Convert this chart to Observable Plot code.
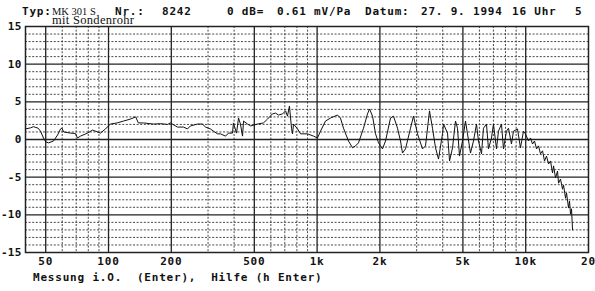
<!DOCTYPE html>
<html>
<head>
<meta charset="utf-8">
<script src="https://cdn.jsdelivr.net/npm/d3@7"></script>
<script src="https://cdn.jsdelivr.net/npm/@observablehq/plot@0.6"></script>
<style>
  html, body { margin: 0; padding: 0; background: #fff; }
</style>
</head>
<body>
<div id="chart"></div>
<script>
// Frequency response (Hz) and level (dB)
const freq = [40, 42.3, 43.7, 46, 47.2, 48.8, 50, 51.6, 54.5, 57, 58.9, 59.8, 61, 65.7, 69.4, 71, 73.4, 79.3, 83.8, 88.6, 91.5, 96.7,
  102, 110, 118, 127, 135, 139, 147, 164, 178, 192, 198, 214, 229, 239, 247, 267, 282, 292, 308, 319, 333, 344, 364, 376, 393, 397,
  411, 420, 429, 439, 444, 464, 480, 518, 553, 578, 611, 632, 653, 683, 706, 721, 737, 754, 762, 771, 806, 833, 899, 961,
  1004, 1038, 1097, 1160, 1252, 1294, 1338, 1414, 1478, 1528, 1579, 1669, 1744, 1784, 1844, 1906, 1970,
  2058, 2128, 2248, 2324, 2429, 2511, 2567, 2653, 2804, 2898, 3029, 3201, 3309, 3458, 3574, 3695, 3819, 3992,
  4036, 4219, 4314, 4458, 4608, 4710, 4815, 4977, 5145, 5259, 5436, 5619, 5809, 5938, 6138, 6275, 6486, 6630, 6854,
  7006, 7243, 7404, 7654, 7824, 8088, 8268, 8547, 8737, 9131, 9439, 9758, 9975,
  10311, 10544, 10779, 11021, 11268, 11519, 11772, 12042, 12307, 12581, 12868, 13148, 13446, 13599, 13901,
  14207, 14370, 14684, 15015, 15183, 15522, 15695, 16041, 16220, 16399, 16583, 16768];
const level = [1.4, 1.55, 1.7, 1.5, 1.1, 0.2, -0.3, -0.45, -0.2, 0.6, 1.4, 1.5, 1.0, 0.85, 0.8, 0.2, 0.45, 0.85, 1.25, 1.0, 0.85, 1.4,
  2.05, 2.2, 2.45, 2.7, 3.0, 2.2, 2.2, 2.05, 2.1, 2.0, 2.2, 1.65, 1.65, 1.4, 1.8, 2.05, 2.05, 1.65, 1.4, 1.1, 0.75, 0.75, 0.45, 0.85, 0.85, 2.2,
  0.85, 2.85, 2.05, 0.45, 2.45, 2.05, 1.8, 2.05, 2.2, 2.7, 3.4, 3.5, 3.25, 3.4, 3.8, 3.1, 4.45, 1.5, 0.75, 2.05, 1.4, 0.75, 0.75, 0.45,
  0.2, 1.1, 2.45, 2.85, 3.25, 2.85, 1.5, -0.2, -1.1, -0.85, -0.45, 1.5, 3.4, 4.05, 3.1, 0.75, -0.45,
  -1.25, -0.2, 2.85, 3.1, 1.5, -0.2, -1.8, -1.25, 1.5, 3.1, 0.75, -1.25, -0.85, 3.8, 1.5, -1.1, -2.6, 0.75,
  2.05, 0.85, -2.85, -1.1, 2.45, 1.5, -2.2, -0.2, 2.45, 0.75, -1.8, -0.2, 2.05, -0.2, -1.9, 1.5, 2.05, -1.25, 0.2,
  2.05, -1.25, 1.1, 2.05, -1.25, 1.1, 1.5, -0.6, 1.1, 1.4, -1.1, 1.1, 0.75,
  -0.2, 0.2, -0.6, -0.2, -1.25, -0.85, -1.9, -1.5, -2.85, -2.2, -3.25, -2.85, -4.45, -3.5, -5.1,
  -4.2, -5.8, -5.25, -6.6, -6.05, -7.8, -7.1, -9.1, -8.15, -9.9, -9.2, -12.0];

// Axes / grid
const xTickValues = [50, 100, 200, 500, 1000, 2000, 5000, 10000, 20000];
const xTickLabels = ["50", "100", "200", "500", "1k", "2k", "5k", "10k", "20"];
const yTickValues = [15, 10, 5, 0, -5, -10, -15];
const yTickLabels = ["15", "10", "5", "0", "-5", "-10", "-15"];
const fMajor = [50, 100, 200, 500, 1000, 2000, 5000, 10000];
const fMinor = [60, 70, 80, 90, 300, 400, 600, 700, 800, 900, 3000, 4000, 6000, 7000, 8000, 9000];
const dbMajor = [-10, -5, 0, 5, 10];
const dbMinor = [-14, -13, -12, -11, -9, -8, -7, -6, -4, -3, -2, -1, 1, 2, 3, 4, 6, 7, 8, 9, 11, 12, 13, 14];

// Header / footer texts
const headerItems = ["Typ:", "MK 301 S", "Nr.:", "8242", "0 dB=", "0.61 mV/Pa", "Datum:", "27. 9. 1994", "16 Uhr", "5"];
const subHeader = "mit Sondenrohr";
const footer = "Messung i.O.  (Enter),  Hilfe (h Enter)";

const data = freq.map((f, i) => ({f, db: level[i]}));

const chart = Plot.plot({
  width: 595,
  height: 291,
  marginLeft: 25,
  marginRight: 7,
  marginTop: 26,
  marginBottom: 39,
  x: {type: "log", domain: [40, 20000], axis: null},
  y: {domain: [-15, 15], axis: null},
  style: {
    fontFamily: "'DejaVu Sans Mono', monospace",
    fontWeight: "bold",
    fontSize: "11px",
    letterSpacing: "0.8px",
    background: "#fff",
    color: "#111"
  },
  marks: [
    Plot.ruleY(dbMinor, {stroke: "#333", strokeWidth: 0.9, strokeDasharray: "2,1.6"}),
    Plot.ruleX(fMinor, {stroke: "#333", strokeWidth: 0.9, strokeDasharray: "2,1.6"}),
    Plot.ruleY(dbMajor, {stroke: "#222", strokeWidth: 1.3}),
    Plot.ruleX(fMajor, {stroke: "#222", strokeWidth: 1.3}),
    Plot.frame({stroke: "#222", strokeWidth: 1.5}),
    Plot.line(data, {x: "f", y: "db", stroke: "#111", strokeWidth: 1}),
    Plot.text(yTickValues, {y: d => d, text: (d, i) => yTickLabels[i], frameAnchor: "left", dx: -4, textAnchor: "end", fill: "#111"}),
    Plot.text(xTickValues, {x: d => d, text: (d, i) => xTickLabels[i], frameAnchor: "bottom", dy: 12,
      textAnchor: d => d === 20000 ? "end" : "middle", fill: "#111"})
  ]
});

const svg = d3.select(chart);
// tighten the y tick labels so "-15" fits in the left margin
const textGroups = svg.selectAll('g[aria-label="text"]').nodes();
if (textGroups.length) d3.select(textGroups[0]).style("letter-spacing", "0.2px");

const headerX = [22, 52, 115, 162, 227, 277, 365, 421, 512, 575];
headerItems.forEach((t, i) => {
  const serif = t === "MK 301 S";
  svg.append("text")
    .attr("x", headerX[i]).attr("y", 15)
    .attr("fill", "#111")
    .attr("text-anchor", "start")
    .style("font-family", serif ? "'Liberation Serif', serif" : null)
    .style("font-weight", serif ? "normal" : null)
    .style("font-size", serif ? "10.5px" : null)
    .style("letter-spacing", serif ? "0px" : null)
    .text(t);
});
svg.append("text")
  .attr("x", 52).attr("y", 24)
  .attr("fill", "#111")
  .attr("text-anchor", "start")
  .style("font-family", "'Liberation Serif', serif")
  .style("font-weight", "normal")
  .style("font-size", "12.5px")
  .style("letter-spacing", "0.3px")
  .text(subHeader);
svg.append("text")
  .attr("x", 33).attr("y", 281)
  .attr("fill", "#111")
  .attr("text-anchor", "start")
  .attr("xml:space", "preserve")
  .style("white-space", "pre")
  .text(footer);

document.getElementById("chart").appendChild(chart);
</script>
</body>
</html>
